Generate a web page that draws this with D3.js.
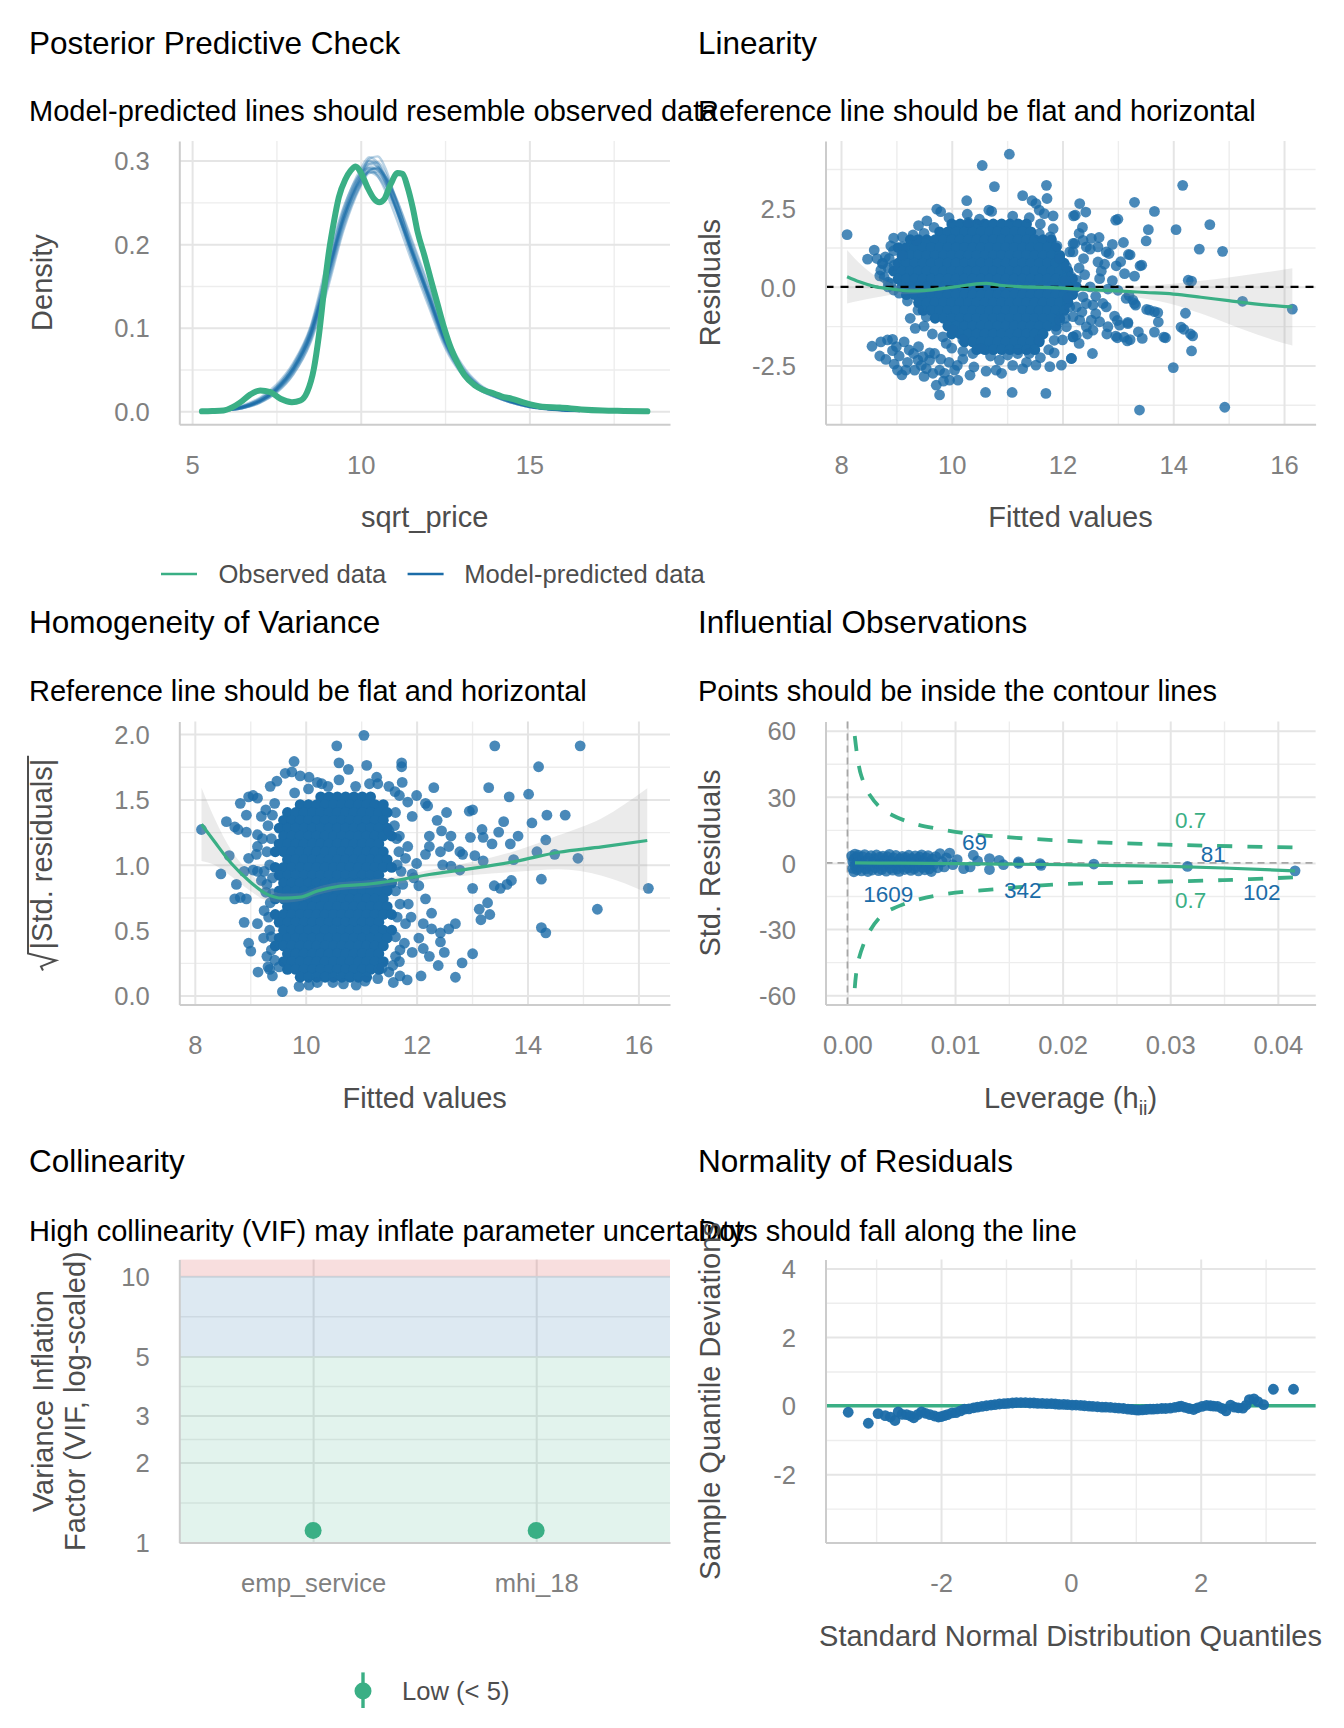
<!DOCTYPE html>
<html>
<head>
<meta charset="utf-8">
<script src="https://cdn.jsdelivr.net/npm/d3@7/dist/d3.min.js"></script>
<style>
  body { margin: 0; background: #fff; }
  svg { display: block; font-family: "Liberation Sans", Arial, Helvetica, sans-serif; }
</style>
</head>
<body>
<svg id="chart" width="1344" height="1728"></svg>
<script>
// ---------- data ----------

// Posterior predictive check: observed density [sqrt_price, density]
const ppcObserved = [[5.29,0],[5.6,0.0003],[5.93,0.001],[6.2,0.005],[6.44,0.011],[6.72,0.02],[7.02,0.025],[7.32,0.023],[7.62,0.015],[7.96,0.011],[8.21,0.013],[8.41,0.023],[8.61,0.051],[8.76,0.091],[8.91,0.144],[9.06,0.192],[9.21,0.228],[9.35,0.256],[9.55,0.278],[9.7,0.288],[9.85,0.293],[10.0,0.286],[10.2,0.268],[10.4,0.254],[10.55,0.25],[10.7,0.254],[10.89,0.272],[11.09,0.285],[11.24,0.284],[11.39,0.268],[11.54,0.244],[11.69,0.214],[11.89,0.186],[12.09,0.156],[12.28,0.128],[12.48,0.099],[12.68,0.075],[12.88,0.057],[13.08,0.043],[13.38,0.031],[13.67,0.025],[13.97,0.021],[14.17,0.018],[14.49,0.015],[14.87,0.010],[15.38,0.0055],[15.9,0.0045],[16.54,0.0023],[17.17,0.001],[17.8,0.0005],[18.5,0]];

// model-predicted density draws, all on the same sqrt_price grid
const ppcGrid = [5.9,6.5,7.0,7.5,8.0,8.5,9.0,9.5,10.0,10.25,10.5,10.75,11.0,11.5,12.0,12.5,13.0,13.5,14.0,14.5,15.0,15.5,16.0,16.5];
const ppcDraws = [
  [0.001,0.005,0.012,0.026,0.050,0.090,0.160,0.232,0.278,0.291,0.289,0.274,0.250,0.194,0.140,0.085,0.049,0.029,0.019,0.011,0.006,0.003,0.0015,0.0005],
  [0.001,0.006,0.014,0.029,0.055,0.097,0.168,0.240,0.286,0.300,0.296,0.278,0.250,0.190,0.135,0.081,0.046,0.027,0.017,0.010,0.005,0.003,0.001,0.0004],
  [0.001,0.004,0.011,0.024,0.047,0.085,0.152,0.225,0.272,0.288,0.292,0.280,0.257,0.199,0.143,0.088,0.051,0.031,0.020,0.012,0.006,0.003,0.0015,0.0005],
  [0.002,0.006,0.013,0.027,0.052,0.093,0.163,0.236,0.283,0.296,0.293,0.276,0.249,0.191,0.137,0.084,0.048,0.028,0.018,0.011,0.006,0.003,0.0013,0.0004],
  [0.001,0.005,0.012,0.025,0.048,0.087,0.155,0.228,0.275,0.289,0.290,0.279,0.256,0.198,0.142,0.087,0.050,0.030,0.020,0.012,0.006,0.003,0.0016,0.0006],
  [0.001,0.005,0.013,0.028,0.053,0.095,0.165,0.236,0.280,0.293,0.288,0.271,0.246,0.190,0.137,0.083,0.048,0.028,0.018,0.011,0.006,0.003,0.0014,0.0005],
  [0.001,0.004,0.011,0.025,0.049,0.089,0.158,0.230,0.279,0.296,0.298,0.284,0.258,0.197,0.139,0.083,0.047,0.028,0.018,0.010,0.005,0.003,0.0013,0.0004],
  [0.002,0.006,0.014,0.028,0.052,0.092,0.160,0.231,0.276,0.287,0.284,0.270,0.248,0.195,0.143,0.089,0.052,0.031,0.020,0.012,0.006,0.003,0.0016,0.0006],
  [0.001,0.005,0.012,0.026,0.051,0.091,0.162,0.234,0.282,0.302,0.305,0.289,0.259,0.195,0.136,0.082,0.047,0.028,0.018,0.011,0.006,0.003,0.0014,0.0005],
  [0.001,0.005,0.012,0.027,0.051,0.089,0.157,0.229,0.276,0.286,0.281,0.266,0.245,0.193,0.141,0.087,0.050,0.030,0.019,0.011,0.006,0.003,0.0015,0.0005],
  [0.001,0.004,0.012,0.026,0.050,0.091,0.161,0.235,0.284,0.299,0.292,0.272,0.247,0.192,0.139,0.085,0.049,0.029,0.019,0.011,0.006,0.003,0.0014,0.0005],
  [0.002,0.007,0.016,0.032,0.058,0.100,0.178,0.245,0.285,0.291,0.282,0.262,0.237,0.181,0.127,0.076,0.044,0.026,0.017,0.010,0.005,0.0025,0.0012,0.0004],
  [0.001,0.004,0.010,0.022,0.044,0.081,0.144,0.218,0.270,0.288,0.291,0.280,0.260,0.207,0.152,0.095,0.056,0.033,0.021,0.013,0.007,0.0035,0.0017,0.0006],
  [0.001,0.006,0.015,0.030,0.056,0.098,0.172,0.243,0.290,0.304,0.297,0.276,0.248,0.186,0.131,0.079,0.045,0.026,0.017,0.010,0.005,0.0025,0.0012,0.0004],
  [0.001,0.004,0.010,0.023,0.045,0.083,0.148,0.221,0.271,0.285,0.287,0.278,0.259,0.204,0.149,0.093,0.054,0.032,0.021,0.012,0.007,0.0035,0.0017,0.0006]
];
const ppcLegend = ["Observed data", "Model-predicted data"];

// Linearity: dense core as rows [residual, fitted values...], plus scattered points [fitted, residual]
const linCoreRows = [
  [2.0, [10.0,10.15,10.3,10.45,10.6,10.75,10.9,11.05,11.2,11.35]],
  [1.75,[9.78,9.93,10.08,10.23,10.38,10.53,10.68,10.83,10.98,11.13,11.28,11.43]],
  [1.5, [9.25,9.4,9.55,9.7,9.85,10.0,10.15,10.3,10.45,10.6,10.75,10.9,11.05,11.2,11.35,11.5,11.65,11.8]],
  [1.25,[9.03,9.18,9.33,9.48,9.63,9.78,9.93,10.08,10.23,10.38,10.53,10.68,10.83,10.98,11.13,11.28,11.43,11.58,11.73,11.88]],
  [1.0, [9.1,9.25,9.4,9.55,9.7,9.85,10.0,10.15,10.3,10.45,10.6,10.75,10.9,11.05,11.2,11.35,11.5,11.65,11.8,11.95]],
  [0.75,[9.03,9.18,9.33,9.48,9.63,9.78,9.93,10.08,10.23,10.38,10.53,10.68,10.83,10.98,11.13,11.28,11.43,11.58,11.73,11.88,12.03]],
  [0.5, [8.95,9.1,9.25,9.4,9.55,9.7,9.85,10.0,10.15,10.3,10.45,10.6,10.75,10.9,11.05,11.2,11.35,11.5,11.65,11.8,11.95,12.1]],
  [0.25,[9.03,9.18,9.33,9.48,9.63,9.78,9.93,10.08,10.23,10.38,10.53,10.68,10.83,10.98,11.13,11.28,11.43,11.58,11.73,11.88,12.03,12.18]],
  [0.0, [9.1,9.25,9.4,9.55,9.7,9.85,10.0,10.15,10.3,10.45,10.6,10.75,10.9,11.05,11.2,11.35,11.5,11.65,11.8,11.95,12.1,12.25]],
  [-0.25,[9.18,9.33,9.48,9.63,9.78,9.93,10.08,10.23,10.38,10.53,10.68,10.83,10.98,11.13,11.28,11.43,11.58,11.73,11.88,12.03,12.18]],
  [-0.5,[9.4,9.55,9.7,9.85,10.0,10.15,10.3,10.45,10.6,10.75,10.9,11.05,11.2,11.35,11.5,11.65,11.8,11.95,12.1]],
  [-0.75,[9.48,9.63,9.78,9.93,10.08,10.23,10.38,10.53,10.68,10.83,10.98,11.13,11.28,11.43,11.58,11.73,11.88,12.03]],
  [-1.0,[9.7,9.85,10.0,10.15,10.3,10.45,10.6,10.75,10.9,11.05,11.2,11.35,11.5,11.65,11.8,11.95]],
  [-1.25,[9.93,10.08,10.23,10.38,10.53,10.68,10.83,10.98,11.13,11.28,11.43,11.58,11.73,11.88]],
  [-1.5,[10.0,10.15,10.3,10.45,10.6,10.75,10.9,11.05,11.2,11.35,11.5,11.65]],
  [-1.75,[10.23,10.38,10.53,10.68,10.83,10.98,11.13,11.28,11.43,11.58]],
  [-2.0,[10.45,10.6,10.75,10.9,11.05,11.2,11.35,11.5]]
];
const linScatter = [
  [11.04,4.22],[10.55,3.86],[10.77,3.19],[11.71,3.23],[10.27,2.74],[11.28,2.9],[11.45,2.74],[11.52,2.65],[11.72,2.81],[9.73,2.47],[9.8,2.39],[10.28,2.31],[10.67,2.44],[10.72,2.4],[11.58,2.44],[11.67,2.33],[11.83,2.26],[12.2,2.26],[9.95,2.2],[10.5,2.15],[11.4,2.2],[11.1,2.25],
  [12.31,2.65],[12.23,2.28],[12.42,2.38],[13.3,2.69],[13.66,2.4],[12.96,2.12],[13.0,2.15],[14.17,3.23],[12.36,1.89],[13.55,1.82],[13.51,1.46],[14.05,1.82],[14.66,1.98],[13.1,1.41],[14.47,1.2],[14.89,1.13],[12.19,1.38],[12.37,1.48],[12.52,1.54],[12.66,1.57],[12.43,1.27],[12.64,1.27],[12.79,1.11],[12.84,1.06],[12.13,1.11],[13.19,1.03],[12.38,0.9],[12.64,0.79],[12.76,0.72],[12.97,0.67],[13.4,0.67],[13.12,0.42],[13.3,0.34],[12.4,0.39],[12.67,0.26],[12.25,0.21],[14.27,0.21],[14.33,0.18],[12.82,-0.07],[13.0,-0.11],[13.15,-0.37],[13.3,-0.53],[13.27,-0.42],[12.19,-0.21],[12.37,-0.32],[12.43,-0.53],[12.25,-0.64],[12.55,-0.58],[12.73,-0.53],[12.79,-0.64],[13.52,-0.72],[13.66,-0.79],[15.25,-0.46],[16.15,-0.71],[14.22,-0.84],[12.94,-0.93],[12.19,-0.95],[12.31,-1.06],[12.52,-1.06],[12.67,-1.11],[13.73,-1.12],[12.82,-1.27],[13.03,-1.22],[13.18,-1.17],[12.43,-1.27],[12.55,-1.38],[12.19,-1.59],[12.25,-1.54],[14.14,-1.28],[12.96,-1.57],[13.17,-1.72],[13.37,-1.43],[13.44,-1.64],[13.66,-1.44],[13.83,-1.6],[14.31,-1.5],[14.33,-2.04],[12.54,-2.12],[12.16,-2.28],[14.0,-2.57],[13.39,-3.92],[14.93,-3.83],
  [12.3,1.7],[12.5,1.2],[12.3,0.6],[12.5,0.0],[12.6,-0.3],[12.35,-0.8],[12.6,-0.85],[12.45,-1.5],[12.3,-1.8],[12.7,0.5],[12.9,0.2],[12.8,-1.5],[13.05,0.8],[12.9,1.35],[13.2,-0.27],[13.32,-0.58],[12.99,-1.07],[13.18,-1.13],[13.11,-1.6],[13.22,-1.68],[12.99,-1.62],[13.22,1.02],[13.43,0.69],[13.57,-0.74],[13.72,-0.82],[13.86,-1.62],[14.19,-1.35],[14.35,-1.56],
  [8.11,1.66],[8.6,1.17],[8.48,0.88],[9.11,1.59],[9.36,1.48],[9.11,1.27],[9.68,1.89],[8.75,0.74],[8.87,0.9],[8.96,0.69],[8.72,0.53],[9.11,1.0],[9.5,1.7],[9.3,1.65],[8.9,1.3],[8.7,0.35],[8.85,0.15],[8.8,0.95],[8.85,0.6],[8.78,0.3],[8.9,0.1],[8.95,-0.1],[8.75,0.75],[8.95,1.15],
  [11.83,1.85],[11.78,1.59],[11.58,1.69],[11.95,0.9],[12.07,0.64],[12.16,0.32],[12.19,1.11],[12.22,1.38],[12.13,-0.64],[11.95,-1.06],[12.07,-1.27],[11.89,-1.38],[12.0,-1.69],[12.19,-1.59],[12.16,-2.28],
  [9.39,-0.74],[9.54,-0.95],[9.34,-1.32],[8.56,-1.89],[8.72,-1.75],[8.84,-1.69],[8.93,-1.67],[8.93,-2.03],[8.81,-2.31],[8.96,-2.46],[9.02,-2.65],[9.14,-1.75],[9.23,-2.01],[9.31,-2.12],[9.39,-2.33],[9.48,-2.22],[9.6,-2.33],[9.69,-2.12],[9.54,-2.6],[9.66,-2.75],[9.78,-2.65],[9.87,-2.75],[9.96,-2.97],[10.05,-2.65],[10.11,-2.97],[9.17,-2.65],[9.33,-2.65],[9.72,-3.13],[9.78,-3.44],[10.33,-2.81],[10.62,-2.68],[10.8,-2.65],[10.61,-3.36],[11.09,-3.36],[11.7,-3.39],[10.38,-2.12],[10.53,-1.96],[10.2,-1.69],[10.02,-1.38],[9.9,-1.8],[9.84,-1.59],[11.28,-2.6],[11.52,-2.49],[11.77,-2.54],[11.98,-2.49],[10.86,-2.33],[11.01,-2.17],[11.19,-2.12],[11.4,-2.12],[11.58,-1.69],
  [9.05,-2.2],[9.2,-2.4],[9.45,-2.5],[9.6,-2.1],[9.8,-2.3],[9.95,-2.4],[10.2,-2.3],[10.1,-2.5],[9.4,-1.9],[9.0,-1.9],[8.7,-2.2],[9.1,-2.8],[9.5,-2.85],[9.85,-3.0],[10.4,-2.55],[10.7,-2.2],[11.35,-2.4],[11.1,-2.5],[10.9,-2.75],[11.6,-2.25],[11.85,-2.1],
  [9.2,-0.45],[9.05,-0.2],[9.25,-1.0],[9.5,-1.25],[9.65,-1.5],[8.85,0.0],[8.65,0.9],[8.95,1.55],[9.4,1.95],[9.55,2.1],[11.6,2.0],[11.9,1.3],[12.05,0.2],[12.1,-0.35],[12.05,-1.0],[11.85,-1.7],[11.75,-2.0],[10.2,-2.05],[10.0,-1.95],[10.3,2.05]
];
const linSmoothX  = [8.11,8.33,8.63,8.93,9.23,9.54,9.84,10.14,10.38,10.62,10.86,11.34,11.95,12.5,13.0,13.5,14.0,14.5,15.0,15.7,16.15];
const linSmoothY  = [0.32,0.16,0.0,-0.07,-0.13,-0.11,-0.05,0.02,0.08,0.11,0.05,0.0,-0.03,-0.09,-0.13,-0.18,-0.23,-0.33,-0.44,-0.58,-0.64];
const linSmoothSE = [0.85,0.6,0.34,0.18,0.1,0.07,0.06,0.05,0.05,0.05,0.05,0.05,0.06,0.08,0.11,0.2,0.33,0.52,0.74,1.05,1.23];

// Homogeneity of variance: dense core rows [sqrt|std. res|, fitted values...] plus scattered points
const homCoreRows = [
  [1.52,[10.27,10.42,10.57,10.72,10.87,11.02,11.17]],
  [1.46,[9.9,10.05,10.2,10.35,10.5,10.65,10.8,10.95,11.1,11.25,11.4]],
  [1.40,[9.67,9.82,9.97,10.12,10.27,10.42,10.57,10.72,10.87,11.02,11.17,11.32,11.47]],
  [1.34,[9.6,9.75,9.9,10.05,10.2,10.35,10.5,10.65,10.8,10.95,11.1,11.25,11.4]],
  [1.28,[9.52,9.67,9.82,9.97,10.12,10.27,10.42,10.57,10.72,10.87,11.02,11.17,11.32,11.47]],
  [1.22,[9.6,9.75,9.9,10.05,10.2,10.35,10.5,10.65,10.8,10.95,11.1,11.25,11.4,11.55]],
  [1.16,[9.52,9.67,9.82,9.97,10.12,10.27,10.42,10.57,10.72,10.87,11.02,11.17,11.32]],
  [1.10,[9.45,9.6,9.75,9.9,10.05,10.2,10.35,10.5,10.65,10.8,10.95,11.1,11.25,11.4]],
  [1.04,[9.67,9.82,9.97,10.12,10.27,10.42,10.57,10.72,10.87,11.02,11.17,11.32,11.47]],
  [0.98,[9.45,9.6,9.75,9.9,10.05,10.2,10.35,10.5,10.65,10.8,10.95,11.1,11.25,11.4,11.55]],
  [0.92,[9.52,9.67,9.82,9.97,10.12,10.27,10.42,10.57,10.72,10.87,11.02,11.17,11.32]],
  [0.86,[9.6,9.75,9.9,10.05,10.2,10.35,10.5,10.65,10.8,10.95,11.1,11.25,11.4,11.55]],
  [0.80,[9.52,9.67,9.82,9.97,10.12,10.27,10.42,10.57,10.72,10.87,11.02,11.17,11.32,11.47]],
  [0.74,[9.45,9.6,9.75,9.9,10.05,10.2,10.35,10.5,10.65,10.8,10.95,11.1,11.25,11.4]],
  [0.68,[9.67,9.82,9.97,10.12,10.27,10.42,10.57,10.72,10.87,11.02,11.17,11.32,11.47]],
  [0.62,[9.45,9.6,9.75,9.9,10.05,10.2,10.35,10.5,10.65,10.8,10.95,11.1,11.25,11.4,11.55]],
  [0.56,[9.52,9.67,9.82,9.97,10.12,10.27,10.42,10.57,10.72,10.87,11.02,11.17,11.32]],
  [0.50,[9.6,9.75,9.9,10.05,10.2,10.35,10.5,10.65,10.8,10.95,11.1,11.25,11.4,11.55]],
  [0.44,[9.52,9.67,9.82,9.97,10.12,10.27,10.42,10.57,10.72,10.87,11.02,11.17,11.32,11.47]],
  [0.38,[9.45,9.6,9.75,9.9,10.05,10.2,10.35,10.5,10.65,10.8,10.95,11.1,11.25,11.4]],
  [0.32,[9.67,9.82,9.97,10.12,10.27,10.42,10.57,10.72,10.87,11.02,11.17,11.32]],
  [0.26,[9.6,9.75,9.9,10.05,10.2,10.35,10.5,10.65,10.8,10.95,11.1,11.25,11.4]],
  [0.20,[9.67,9.82,9.97,10.12,10.27,10.42,10.57,10.72,10.87,11.02,11.17,11.32]],
  [0.14,[9.9,10.05,10.2,10.35,10.5,10.65,10.8,10.95,11.1]]
];
const homScatter = [
  [11.05,1.99],[10.56,1.91],[13.41,1.91],[14.95,1.91],[14.2,1.75],[10.6,1.78],[10.77,1.73],[11.1,1.76],[11.73,1.78],[11.73,1.75],[9.79,1.79],[11.28,1.67],[11.74,1.63],[12.31,1.59],[13.3,1.59],[13.67,1.52],[14.02,1.54],[12.0,1.53],[12.16,1.47],[12.2,1.45],[12.54,1.4],[12.95,1.41],[13.01,1.42],[14.35,1.38],[14.68,1.38],[12.37,1.34],[13.57,1.33],[14.08,1.32],[13.18,1.27],[12.45,1.26],[12.62,1.22],[13.48,1.25],[13.83,1.22],[12.97,1.21],[13.2,1.21],[14.33,1.19],[13.36,1.16],[13.69,1.16],[12.23,1.22],[12.23,1.14],[12.16,1.08],[12.43,1.1],[12.58,1.14],[12.78,1.1],[12.83,1.08],[13.05,1.07],[13.2,1.03],[13.75,1.04],[14.17,1.1],[14.49,1.08],[14.91,1.05],[12.47,1.0],[12.62,0.99],[12.78,0.96],[13.01,0.82],[13.4,0.84],[13.51,0.82],[13.63,0.85],[13.71,0.88],[14.25,0.89],[16.18,0.82],[15.26,0.66],[13.13,0.66],[13.28,0.71],[13.32,0.62],[13.16,0.58],[14.25,0.52],[14.33,0.48],[12.7,0.55],[12.58,0.51],[12.43,0.48],[12.27,0.51],[13.01,0.32],[12.82,0.25],[12.7,0.14],[12.08,0.15],[11.83,0.12],[12.39,0.23],[12.23,0.3],[12.12,0.36],[12.43,0.41],[12.5,0.33],
  [9.58,0.03],[9.88,0.07],[10.06,0.08],[10.21,0.1],[10.49,0.1],[10.68,0.09],[10.91,0.08],[11.07,0.11],[11.3,0.13],[11.5,0.18],[9.14,0.18],[9.32,0.22],
  [8.12,1.27],[8.57,1.33],[8.47,0.93],[8.62,1.07],[8.72,1.29],[8.78,1.27],[8.93,1.25],[8.82,1.47],[8.93,1.38],[8.97,1.52],[9.05,1.53],[9.13,1.51],[9.13,1.23],[9.13,1.14],[8.75,0.85],[8.72,0.74],[8.82,0.75],[8.93,0.74],[8.89,0.56],[8.97,0.4],[9.01,0.34],[8.89,0.95],[9.05,0.96],[8.97,1.05],[9.11,1.08],[9.36,1.6],[9.48,1.64],[9.63,1.7],[9.75,1.71],[9.9,1.68],[10.06,1.67],[10.21,1.63],[10.29,1.62],[9.28,1.42],[9.44,1.47],[9.2,1.37],[9.13,0.95],[9.2,0.88],[9.28,0.79],[9.36,0.71],[9.13,0.55],[9.24,0.44],[9.44,0.27],[9.52,0.22],
  [9.3,1.1],[9.35,0.5],[9.25,0.65],[9.4,0.9],[9.3,0.3],[9.38,1.2],[10.4,1.6],[10.6,1.65],[10.9,1.6],[11.15,1.62],[10.05,1.58],[9.8,1.55],
  [9.38,0.35],[9.33,0.6],[9.4,0.78],[9.35,1.0],[9.32,1.3],[9.4,1.38],[9.25,0.95],[9.38,0.45],[9.3,0.85],[9.22,1.2],[9.4,0.15],[9.35,0.2],
  [11.3,1.62],[11.5,1.6],[11.61,1.56],[11.69,1.53],[11.84,1.48],[11.92,1.37],[11.5,1.26],[11.69,1.22],[11.84,1.14],[12.0,1.01],[11.92,0.93],[12.04,0.84],[12.16,0.74],[12.27,0.63],[12.12,0.55],[12.04,0.44],[11.92,0.33],[11.69,0.26],[11.57,0.23],[11.38,0.21],
  [11.65,1.0],[11.7,0.7],[11.62,0.45],[11.75,0.85],[11.6,1.3],[11.8,0.55],[11.7,0.35],
  [11.62,0.3],[11.65,0.6],[11.62,0.8],[11.68,1.1],[11.64,1.2],[11.72,0.95],[11.78,0.4],[11.85,0.7],[11.62,1.4],[11.8,1.05],[11.9,0.6],[11.7,0.15],[11.95,0.9],[11.58,0.1]
];
const homSmoothX  = [8.12,8.35,8.66,8.97,9.28,9.59,9.9,10.21,10.6,11.07,11.61,12.23,13.01,13.79,14.56,15.34,16.16];
const homSmoothY  = [1.31,1.18,1.01,0.88,0.78,0.745,0.753,0.8,0.836,0.85,0.88,0.926,0.973,1.027,1.096,1.137,1.186];
const homSmoothSE = [0.28,0.18,0.1,0.07,0.05,0.035,0.03,0.03,0.03,0.03,0.03,0.035,0.05,0.08,0.13,0.22,0.4];

// Influential observations: [leverage, std. residual]
const inflPoints = [[0.0004,3.2],[0.0005,-2.5],[0.0005,0.5],[0.0006,-4.0],[0.0006,1.8],[0.0007,4.0],[0.0007,-1.2],[0.0008,2.6],[0.0009,-3.1],[0.0009,0.2],[0.001,3.5],[0.0011,-1.9],[0.0012,1.2],[0.0013,-3.6],[0.0014,2.9],[0.0015,-0.6],[0.0016,3.8],[0.0017,-2.7],[0.0018,0.9],[0.0019,-3.9],[0.002,2.2],[0.0021,-1.4],[0.0022,3.3],[0.0023,-3.2],[0.0024,0.4],[0.0025,1.9],[0.0026,-2.2],[0.0027,3.6],[0.0028,-0.8],[0.0029,-3.5],[0.003,2.6],[0.0031,0.0],[0.0032,-2.9],[0.0033,3.1],[0.0034,-1.6],[0.0035,1.4],[0.0036,-3.7],[0.0037,2.8],[0.0038,-0.4],[0.0039,3.9],[0.004,-2.4],[0.0041,1.0],[0.0042,-3.3],[0.0043,2.3],[0.0044,-1.0],[0.0045,3.4],[0.0046,-2.8],[0.0047,0.6],[0.0048,-3.8],[0.0049,2.0],[0.005,-1.7],[0.0051,3.0],[0.0052,-0.2],[0.0053,-3.0],[0.0054,2.5],[0.0055,1.2],[0.0056,-2.3],[0.0057,3.5],[0.0058,-1.1],[0.0059,-3.4],[0.006,2.1],[0.0061,0.3],[0.0062,-2.6],[0.0063,3.2],[0.0064,-1.5],[0.0065,1.7],[0.0066,-3.6],[0.0067,2.7],[0.0068,-0.5],[0.0069,3.7],[0.007,-2.0],[0.0071,0.8],[0.0072,-3.1],[0.0073,2.4],[0.0074,-1.3],[0.0075,3.3],[0.0076,-2.7],[0.0077,0.1],[0.0078,-3.9],[0.0079,1.8],[0.008,-0.9],[0.0082,2.9],[0.0084,-2.2],[0.0086,4.2],[0.0088,0.6],[0.009,-1.8],[0.0092,2.3],[0.0095,4.5],[0.0098,-0.8],[0.0102,1.5],[0.0108,-2.6],[0.0114,-1.8],[0.0117,3.5],[0.0121,0.9],[0.0132,2.0],[0.0132,-3.0],[0.0141,1.2],[0.0145,-0.8],[0.0159,0.5],[0.0159,-0.2],[0.0179,-0.3],[0.018,-1.1],[0.0229,-0.5],[0.0316,-1.6],[0.0416,-3.6]];
const inflSmooth = [[0.0007,0],[0.005,-0.1],[0.01,-0.3],[0.015,-0.55],[0.02,-0.8],[0.025,-1.2],[0.03,-1.6],[0.035,-2.3],[0.0416,-3.6]];
const inflContourUpper = [[0.00068,57.6],[0.00096,47.0],[0.00128,39.7],[0.00208,30.8],[0.00328,24.3],[0.00568,18.6],[0.00848,15.4],[0.01168,13.0],[0.0157,11.4],[0.0217,9.7],[0.0277,8.6],[0.0337,7.8],[0.0417,7.0]];
const inflContourLower = [[0.00068,-56.8],[0.001,-44.6],[0.002,-31.6],[0.00328,-23.5],[0.00528,-18.6],[0.00848,-14.6],[0.01408,-11.8],[0.0197,-9.7],[0.0257,-8.9],[0.0349,-7.8],[0.0416,-6.5]];
const inflLabels = [["69",0.0118,9.5],["1609",0.0038,-13.9],["342",0.0163,-12.4],["81",0.034,4.0],["102",0.0385,-13.3]];
const inflContourLabels = [["0.7",0.0319,19.5],["0.7",0.0319,-16.7]];

// Collinearity
const vifTerms = ["emp_service", "mhi_18"];
const vifValues = [1.11, 1.11];
const vifLow = [1.09, 1.09];
const vifHigh = [1.13, 1.13];
const vifZones = [[1, 5, "#3aaf85"], [5, 10, "#1b6ca8"], [10, 11.54, "#cd201f"]];
const vifTicks = [1, 2, 3, 5, 10];
const vifMinor = [1.414, 2.449, 3.873, 7.071];

// Normality (detrended Q-Q): [theoretical quantile, sample deviation]
const qqPoints = [[-3.43,-0.19],[-3.12,-0.51],[-2.97,-0.23],[-2.86,-0.29],[-2.78,-0.33],[-2.71,-0.43],[-2.66,-0.18],[-2.6,-0.25],[-2.53,-0.26],[-2.47,-0.3],[-2.42,-0.35],[-2.36,-0.26],[-2.3,-0.18],[-2.24,-0.22],[-2.17,-0.26],[-2.1,-0.3],[-2.04,-0.33],[-2.0,-0.32],[-1.95,-0.29],[-1.9,-0.26],[-1.83,-0.21],[-1.77,-0.2],[-1.7,-0.15],[-1.64,-0.1],[-1.57,-0.09],[-1.5,-0.06],[-1.44,-0.04],[-1.37,-0.02],[-1.3,0.0],[-1.23,0.02],[-1.17,0.03],[-1.1,0.05],[-1.03,0.06],[-0.97,0.07],[-0.9,0.08],[-0.84,0.09],[-0.77,0.09],[-0.7,0.09],[-0.63,0.08],[-0.57,0.08],[-0.51,0.07],[-0.44,0.07],[-0.37,0.06],[-0.3,0.06],[-0.24,0.05],[-0.18,0.04],[-0.11,0.04],[-0.05,0.03],[0.02,0.02],[0.08,0.02],[0.15,0.01],[0.21,0.0],[0.28,-0.01],[0.34,-0.02],[0.41,-0.03],[0.48,-0.04],[0.54,-0.04],[0.61,-0.05],[0.68,-0.06],[0.74,-0.07],[0.81,-0.08],[0.88,-0.1],[0.94,-0.11],[1.0,-0.12],[1.04,-0.13],[1.1,-0.12],[1.16,-0.11],[1.22,-0.1],[1.27,-0.1],[1.33,-0.09],[1.4,-0.08],[1.46,-0.08],[1.53,-0.07],[1.6,-0.05],[1.66,-0.03],[1.7,-0.01],[1.76,-0.05],[1.82,-0.08],[1.89,-0.11],[1.95,-0.06],[2.02,-0.02],[2.09,0.01],[2.15,0.0],[2.2,-0.01],[2.26,-0.02],[2.33,-0.08],[2.39,-0.15],[2.46,0.02],[2.52,-0.04],[2.58,-0.06],[2.65,-0.07],[2.7,0.02],[2.75,0.18],[2.82,0.2],[2.88,0.12],[2.97,0.03],[3.12,0.48],[3.43,0.48]];

// ---------- look ----------
const BLUE = "#1b6ca8", GREEN = "#3aaf85";
const FONT = '"Liberation Sans", Arial, Helvetica, sans-serif';
const TICK_COL = "#808080", TITLE_COL = "#4d4d4d";
const DOT_R = 5.4;
const loc = d3.formatLocale({decimal: ".", thousands: ",", grouping: [3], currency: ["", ""], minus: "-"});

const COLS = [
  {title: 29, plotL: 179.3, plotR: 670, ytitle: 52},
  {title: 698, plotL: 825.5, plotR: 1315.6, ytitle: 720}
];
const ROWS = [
  {title: 53.7, sub: 121, top: 141, bottom: 424.2},
  {title: 633, sub: 701, top: 721.5, bottom: 1004.6},
  {title: 1172, sub: 1241, top: 1259.6, bottom: 1542.6}
];

const svg = d3.select("#chart");
svg.append("rect").attr("width", 1344).attr("height", 1728).attr("fill", "#fff");

function gridStyle(color, width) {
  return s => {
    s.select(".domain").remove();
    s.selectAll(".tick text").remove();
    s.selectAll(".tick line").attr("stroke", color).attr("stroke-width", width);
  };
}

// builds one facet: titles, grid, axes; returns layers for marks
function panel(col, row, o) {
  const c = COLS[col], r = ROWS[row];
  const root = svg.append("g");
  const gridL = root.append("g"), markL = root.append("g"), axisL = root.append("g"), textL = root.append("g");
  const x = o.x.range([c.plotL, c.plotR]);
  const y = o.y.range([r.bottom, r.top]);
  const w = c.plotR - c.plotL, h = r.bottom - r.top;

  textL.append("text").attr("x", c.title).attr("y", r.title)
    .attr("font-size", 31.5).attr("fill", "#000").text(o.title);
  textL.append("text").attr("x", c.title).attr("y", r.sub)
    .attr("font-size", 29).attr("fill", "#000").text(o.subtitle);

  if (o.xMinor) gridL.append("g").attr("transform", `translate(0,${r.bottom})`)
    .call(d3.axisBottom(x).tickValues(o.xMinor).tickSize(-h).tickFormat("")).call(gridStyle("#ededed", 1.4));
  if (o.yMinor) gridL.append("g").attr("transform", `translate(${c.plotL},0)`)
    .call(d3.axisLeft(y).tickValues(o.yMinor).tickSize(-w).tickFormat("")).call(gridStyle("#ededed", 1.4));
  gridL.append("g").attr("transform", `translate(0,${r.bottom})`)
    .call(d3.axisBottom(x).tickValues(o.xMajor).tickSize(-h).tickFormat("")).call(gridStyle("#e5e5e5", 2));
  gridL.append("g").attr("transform", `translate(${c.plotL},0)`)
    .call(d3.axisLeft(y).tickValues(o.yMajor).tickSize(-w).tickFormat("")).call(gridStyle("#e5e5e5", 2));

  const xa = axisL.append("g").attr("transform", `translate(0,${r.bottom})`)
    .call(d3.axisBottom(x).tickValues(o.xMajor).tickSize(0).tickSizeOuter(0).tickFormat(o.xFmt));
  const ya = axisL.append("g").attr("transform", `translate(${c.plotL},0)`)
    .call(d3.axisLeft(y).tickValues(o.yMajor).tickSize(0).tickSizeOuter(0).tickFormat(o.yFmt));
  [xa, ya].forEach(a => {
    a.attr("font-family", FONT).attr("font-size", 25.6);
    a.select(".domain").attr("stroke", "#cccccc").attr("stroke-width", 2);
    a.selectAll(".tick text").attr("fill", TICK_COL);
  });
  xa.selectAll(".tick text").attr("y", 49.5).attr("dy", null);
  ya.selectAll(".tick text").attr("x", -29.5).attr("dy", "0.36em");

  if (o.xTitle) {
    textL.append("text").attr("x", (c.plotL + c.plotR) / 2).attr("y", r.bottom + 103)
      .attr("text-anchor", "middle").attr("font-size", 29).attr("fill", TITLE_COL).text(o.xTitle);
  }
  if (o.yTitle) {
    textL.append("text")
      .attr("transform", `translate(${c.ytitle},${(r.top + r.bottom) / 2}) rotate(-90)`)
      .attr("text-anchor", "middle").attr("font-size", 29).attr("fill", TITLE_COL).text(o.yTitle);
  }
  return {g: markL, t: textL, x, y, c, r};
}

function drawDots(p, data, opacity) {
  p.g.append("g").selectAll("circle").data(data).join("circle")
    .attr("cx", d => p.x(d[0])).attr("cy", d => p.y(d[1]))
    .attr("r", DOT_R).attr("fill", BLUE).attr("fill-opacity", opacity);
}

// ---------- 1. Posterior predictive check ----------
{
  const p = panel(0, 0, {
    title: "Posterior Predictive Check",
    subtitle: "Model-predicted lines should resemble observed data",
    x: d3.scaleLinear().domain([4.62, 19.17]), y: d3.scaleLinear().domain([-0.0154, 0.3234]),
    xMajor: [5, 10, 15], xMinor: [7.5, 12.5, 17.5], yMajor: [0, 0.1, 0.2, 0.3], yMinor: [0.05, 0.15, 0.25],
    xFmt: loc.format("d"), yFmt: loc.format(".1f"), xTitle: "sqrt_price", yTitle: "Density"
  });
  const drawLine = d3.line().x((d, i) => p.x(ppcGrid[i])).y(d => p.y(d)).curve(d3.curveMonotoneX);
  p.g.append("g").selectAll("path").data(ppcDraws).join("path")
    .attr("d", drawLine).attr("fill", "none").attr("stroke", BLUE)
    .attr("stroke-width", 2.4).attr("stroke-opacity", 0.3);
  p.g.append("path").datum(ppcObserved)
    .attr("d", d3.line().x(d => p.x(d[0])).y(d => p.y(d[1])).curve(d3.curveMonotoneX))
    .attr("fill", "none").attr("stroke", GREEN).attr("stroke-width", 6).attr("stroke-linecap", "round");

  // legend under the panel
  const leg = p.t.append("g").attr("font-size", 25.6).attr("fill", TITLE_COL);
  const keys = [{x: 161, tx: 218.4, col: GREEN}, {x: 407.6, tx: 464.3, col: BLUE}];
  keys.forEach((k, i) => {
    leg.append("line").attr("x1", k.x).attr("x2", k.x + 36).attr("y1", 574).attr("y2", 574)
      .attr("stroke", k.col).attr("stroke-width", 2.5);
    leg.append("text").attr("x", k.tx).attr("y", 583.2).text(ppcLegend[i]);
  });
}

// ---------- 2. Linearity ----------
{
  const p = panel(1, 0, {
    title: "Linearity", subtitle: "Reference line should be flat and horizontal",
    x: d3.scaleLinear().domain([7.72, 16.57]), y: d3.scaleLinear().domain([-4.37, 4.64]),
    xMajor: [8, 10, 12, 14, 16], xMinor: [9, 11, 13, 15], yMajor: [-2.5, 0, 2.5], yMinor: [-3.75, -1.25, 1.25, 3.75],
    xFmt: loc.format("d"), yFmt: loc.format(".1f"), xTitle: "Fitted values", yTitle: "Residuals"
  });
  drawDots(p, linCoreRows.flatMap(([res, xs]) => xs.map(f => [f, res])), 1);
  drawDots(p, linScatter, 0.8);
  const idx = d3.range(linSmoothX.length);
  p.g.append("path").datum(idx)
    .attr("d", d3.area().x(i => p.x(linSmoothX[i]))
      .y0(i => p.y(linSmoothY[i] - linSmoothSE[i])).y1(i => p.y(linSmoothY[i] + linSmoothSE[i])).curve(d3.curveMonotoneX))
    .attr("fill", "#999999").attr("fill-opacity", 0.2);
  p.g.append("line").attr("x1", p.c.plotL).attr("x2", p.c.plotR).attr("y1", p.y(0)).attr("y2", p.y(0))
    .attr("stroke", "#000").attr("stroke-width", 2.2).attr("stroke-dasharray", "8,7");
  p.g.append("path").datum(idx)
    .attr("d", d3.line().x(i => p.x(linSmoothX[i])).y(i => p.y(linSmoothY[i])).curve(d3.curveMonotoneX))
    .attr("fill", "none").attr("stroke", GREEN).attr("stroke-width", 3.2);
}

// ---------- 3. Homogeneity of variance ----------
{
  const p = panel(0, 1, {
    title: "Homogeneity of Variance", subtitle: "Reference line should be flat and horizontal",
    x: d3.scaleLinear().domain([7.72, 16.57]), y: d3.scaleLinear().domain([-0.069, 2.096]),
    xMajor: [8, 10, 12, 14, 16], xMinor: [9, 11, 13, 15], yMajor: [0, 0.5, 1, 1.5, 2], yMinor: [0.25, 0.75, 1.25, 1.75],
    xFmt: loc.format("d"), yFmt: loc.format(".1f"), xTitle: "Fitted values"
  });
  drawDots(p, homCoreRows.flatMap(([v, xs]) => xs.map(f => [f, v])), 1);
  drawDots(p, homScatter, 0.8);
  const idx = d3.range(homSmoothX.length);
  p.g.append("path").datum(idx)
    .attr("d", d3.area().x(i => p.x(homSmoothX[i]))
      .y0(i => p.y(homSmoothY[i] - homSmoothSE[i])).y1(i => p.y(homSmoothY[i] + homSmoothSE[i])).curve(d3.curveMonotoneX))
    .attr("fill", "#999999").attr("fill-opacity", 0.2);
  p.g.append("path").datum(idx)
    .attr("d", d3.line().x(i => p.x(homSmoothX[i])).y(i => p.y(homSmoothY[i])).curve(d3.curveMonotoneX))
    .attr("fill", "none").attr("stroke", GREEN).attr("stroke-width", 3.2);

  // y title with a square-root sign
  const yt = p.t.append("g")
    .attr("transform", `translate(${p.c.ytitle},${(p.r.top + p.r.bottom) / 2}) rotate(-90)`);
  const txt = yt.append("text").attr("x", 9).attr("text-anchor", "middle")
    .attr("font-size", 29).attr("fill", TITLE_COL).text("|Std. residuals|");
  const tw = txt.node().getComputedTextLength();
  const x0 = 9 - tw / 2 - 2;
  yt.append("path")
    .attr("d", `M${x0 - 19},-9 L${x0 - 15},-11 L${x0 - 9},4 L${x0 - 2},-24 L${x0 + tw + 5},-24`)
    .attr("fill", "none").attr("stroke", TITLE_COL).attr("stroke-width", 2);
}

// ---------- 4. Influential observations ----------
{
  const p = panel(1, 1, {
    title: "Influential Observations", subtitle: "Points should be inside the contour lines",
    x: d3.scaleLinear().domain([-0.00204, 0.04351]), y: d3.scaleLinear().domain([-64.3, 64.2]),
    xMajor: [0, 0.01, 0.02, 0.03, 0.04], xMinor: [0.005, 0.015, 0.025, 0.035],
    yMajor: [-60, -30, 0, 30, 60], yMinor: [-45, -15, 15, 45],
    xFmt: loc.format(".2f"), yFmt: loc.format("d"), yTitle: "Std. Residuals"
  });
  p.g.append("line").attr("x1", p.x(0)).attr("x2", p.x(0)).attr("y1", p.r.top).attr("y2", p.r.bottom)
    .attr("stroke", "#a6a6a6").attr("stroke-width", 1.7).attr("stroke-dasharray", "7,5");
  p.g.append("line").attr("x1", p.c.plotL).attr("x2", p.c.plotR).attr("y1", p.y(0)).attr("y2", p.y(0))
    .attr("stroke", "#a6a6a6").attr("stroke-width", 1.7).attr("stroke-dasharray", "7,5");
  drawDots(p, inflPoints, 0.8);
  const ln = d3.line().x(d => p.x(d[0])).y(d => p.y(d[1])).curve(d3.curveMonotoneX);
  p.g.append("path").datum(inflSmooth).attr("d", ln)
    .attr("fill", "none").attr("stroke", GREEN).attr("stroke-width", 3.2);
  p.g.append("g").selectAll("path").data([inflContourUpper, inflContourLower]).join("path")
    .attr("d", d3.line().x(d => p.x(d[0])).y(d => p.y(d[1])).curve(d3.curveCatmullRom))
    .attr("fill", "none").attr("stroke", GREEN).attr("stroke-width", 3.8).attr("stroke-dasharray", "15,15");
  p.g.append("g").selectAll("text").data(inflLabels).join("text")
    .attr("x", d => p.x(d[1])).attr("y", d => p.y(d[2])).attr("dy", "0.36em")
    .attr("text-anchor", "middle").attr("font-size", 22.5).attr("fill", BLUE).text(d => d[0]);
  p.g.append("g").selectAll("text").data(inflContourLabels).join("text")
    .attr("x", d => p.x(d[1])).attr("y", d => p.y(d[2])).attr("dy", "0.36em")
    .attr("text-anchor", "middle").attr("font-size", 22.5).attr("fill", GREEN).text(d => d[0]);

  const xt = p.t.append("text").attr("x", (p.c.plotL + p.c.plotR) / 2).attr("y", p.r.bottom + 103)
    .attr("text-anchor", "middle").attr("font-size", 29).attr("fill", TITLE_COL);
  xt.append("tspan").text("Leverage (h");
  xt.append("tspan").attr("font-size", 20).attr("dy", 7).text("ii");
  xt.append("tspan").attr("dy", -7).text(")");
}

// ---------- 5. Collinearity ----------
{
  const p = panel(0, 2, {
    title: "Collinearity", subtitle: "High collinearity (VIF) may inflate parameter uncertainty",
    x: d3.scalePoint().domain(vifTerms).padding(0.6), y: d3.scaleLog().domain([1, 11.54]),
    xMajor: vifTerms, yMajor: vifTicks, yMinor: vifMinor,
    xFmt: d => d, yFmt: d => String(d)
  });
  p.g.append("g").selectAll("rect").data(vifZones).join("rect")
    .attr("x", p.c.plotL).attr("width", p.c.plotR - p.c.plotL)
    .attr("y", d => p.y(d[1])).attr("height", d => p.y(d[0]) - p.y(d[1]))
    .attr("fill", d => d[2]).attr("fill-opacity", 0.15);
  p.g.append("g").selectAll("line").data(vifTerms).join("line")
    .attr("x1", d => p.x(d)).attr("x2", d => p.x(d))
    .attr("y1", (d, i) => p.y(vifLow[i])).attr("y2", (d, i) => p.y(vifHigh[i]))
    .attr("stroke", GREEN).attr("stroke-width", 3.4);
  p.g.append("g").selectAll("circle").data(vifTerms).join("circle")
    .attr("cx", d => p.x(d)).attr("cy", (d, i) => p.y(vifValues[i])).attr("r", 8.5).attr("fill", GREEN);

  const yt = p.t.append("g").attr("font-size", 29).attr("fill", TITLE_COL).attr("text-anchor", "middle");
  const cy = (p.r.top + p.r.bottom) / 2;
  yt.append("text").attr("transform", `translate(52.5,${cy}) rotate(-90)`).text("Variance Inflation");
  yt.append("text").attr("transform", `translate(84.7,${cy}) rotate(-90)`).text("Factor (VIF, log-scaled)");

  const leg = p.t.append("g");
  leg.append("line").attr("x1", 363).attr("x2", 363).attr("y1", 1672.4).attr("y2", 1708)
    .attr("stroke", GREEN).attr("stroke-width", 3.4);
  leg.append("circle").attr("cx", 363).attr("cy", 1691).attr("r", 8.5).attr("fill", GREEN);
  leg.append("text").attr("x", 402).attr("y", 1700).attr("font-size", 25.6).attr("fill", TITLE_COL).text("Low (< 5)");
}

// ---------- 6. Normality of residuals ----------
{
  const p = panel(1, 2, {
    title: "Normality of Residuals", subtitle: "Dots should fall along the line",
    x: d3.scaleLinear().domain([-3.78, 3.77]), y: d3.scaleLinear().domain([-3.99, 4.26]),
    xMajor: [-2, 0, 2], xMinor: [-3, -1, 1, 3], yMajor: [-2, 0, 2, 4], yMinor: [-3, -1, 1, 3],
    xFmt: loc.format("d"), yFmt: loc.format("d"),
    xTitle: "Standard Normal Distribution Quantiles", yTitle: "Sample Quantile Deviations"
  });
  p.g.append("line").attr("x1", p.c.plotL).attr("x2", p.c.plotR).attr("y1", p.y(0)).attr("y2", p.y(0))
    .attr("stroke", GREEN).attr("stroke-width", 3.5);
  drawDots(p, qqPoints, 0.95);
}
</script>
</body>
</html>
